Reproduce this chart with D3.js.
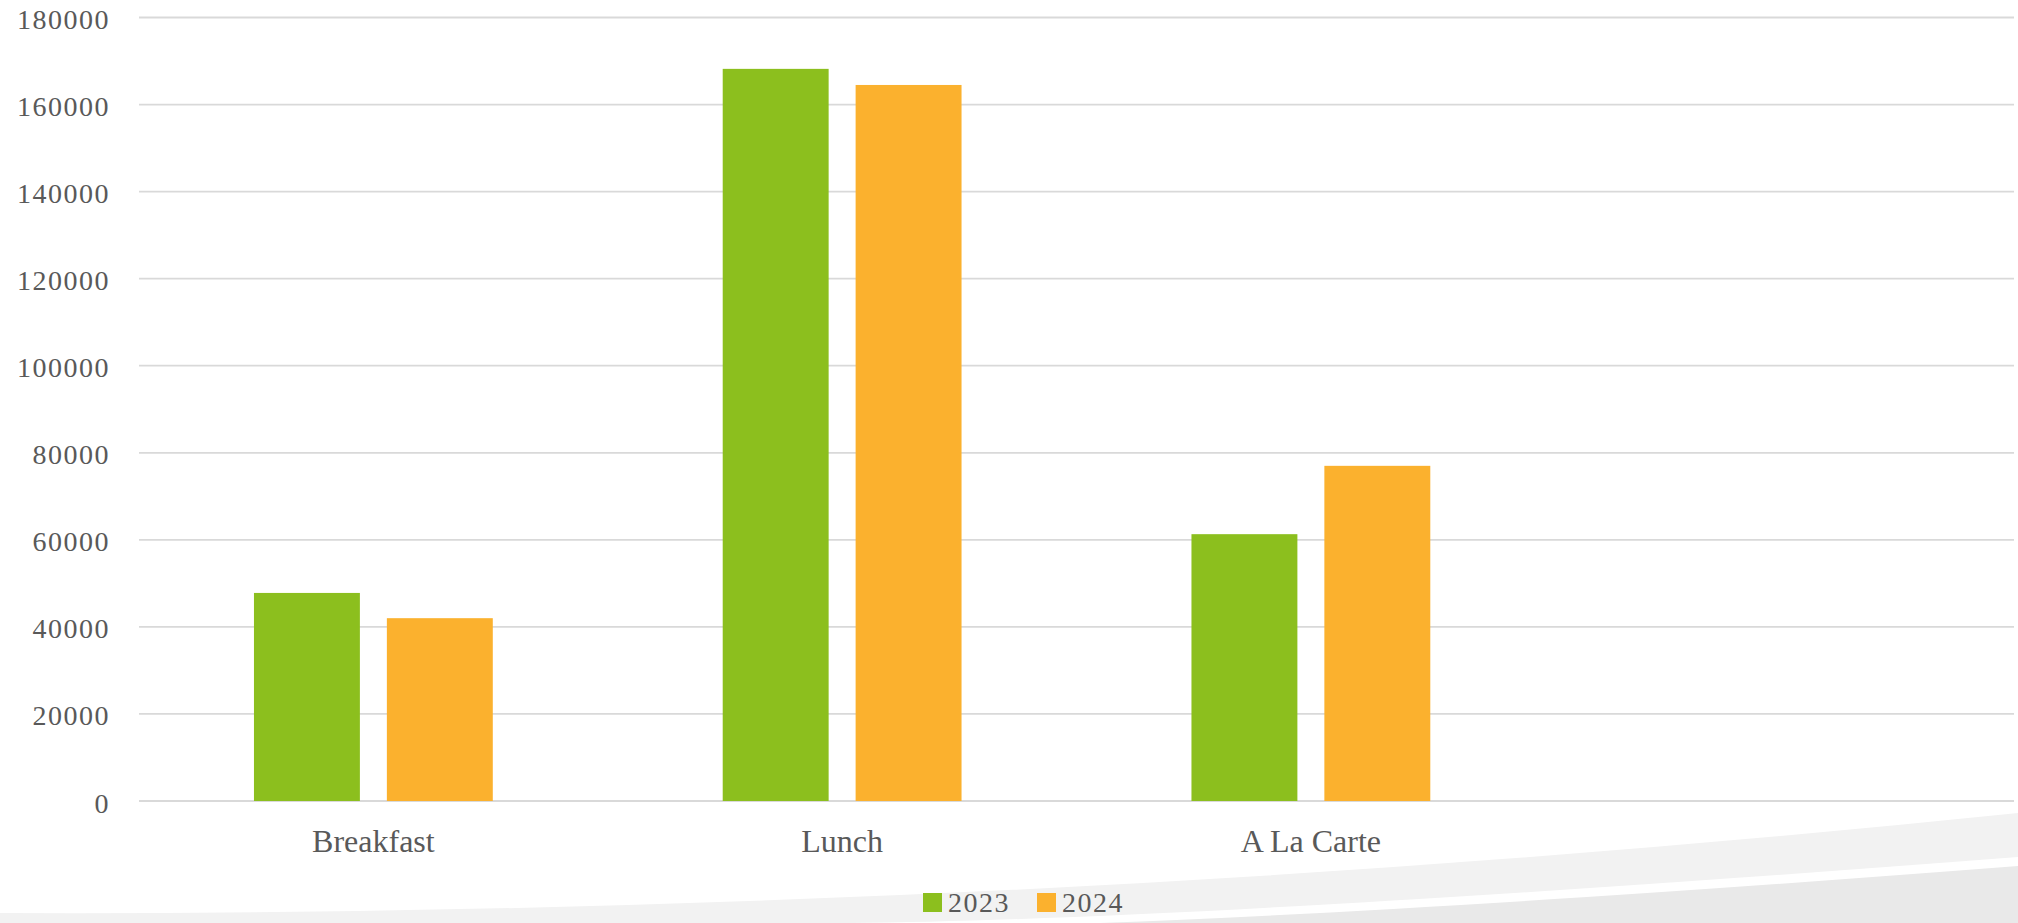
<!DOCTYPE html>
<html>
<head>
    <title>Meals 2023 vs 2024</title>
    <script src="https://cdn.jsdelivr.net/npm/d3@7"></script>
    <style>
        body { margin: 0; background: #fff; }
        text { font-family: "Liberation Serif", "DejaVu Serif", serif; fill: #595959; }
    </style>
</head>
<body>
    <svg width="2018" height="923" id="mainSvg"></svg>
    <script>
        // data
        const categories = ["Breakfast", "Lunch", "A La Carte", ""];
        const seriesNames = ["2023", "2024"];
        const values2023 = [47800, 168200, 61300, null];
        const values2024 = [42000, 164500, 77000, null];
        const yTicks = [0, 20000, 40000, 60000, 80000, 100000, 120000, 140000, 160000, 180000];
        const colors = ["#8cbf1e", "#fbb12e"];

        const svg = d3.select("#mainSvg");
        const width = +svg.attr("width");
        const height = +svg.attr("height");

        const plot = { left: 139, right: 2014, top: 17.5, bottom: 801 };

        // decorative swooshes at the bottom
        const light = d3.path();
        light.moveTo(0, 913);
        light.quadraticCurveTo(1009, 917, width, 813);
        light.lineTo(width, 857);
        light.quadraticCurveTo(1200, 920, 850, height);
        light.lineTo(0, height);
        light.closePath();
        svg.append("path").attr("d", light.toString()).attr("fill", "#f2f2f2");

        const dark = d3.path();
        dark.moveTo(1100, height);
        dark.quadraticCurveTo(1450, 910, width, 866);
        dark.lineTo(width, height);
        dark.closePath();
        svg.append("path").attr("d", dark.toString()).attr("fill", "#e9e9e9");

        const y = d3.scaleLinear().domain([0, 180000]).range([plot.bottom, plot.top]);
        const x0 = d3.scaleBand().domain(categories).range([plot.left, plot.right]);
        const x1 = d3.scaleBand().domain(seriesNames).range([0, x0.bandwidth()])
            .paddingInner(0.203).paddingOuter(0.865);

        // gridlines
        svg.append("g").selectAll("line")
            .data(yTicks)
            .join("line")
            .attr("x1", plot.left).attr("x2", plot.right)
            .attr("y1", d => y(d)).attr("y2", d => y(d))
            .attr("stroke", "#d9d9d9")
            .attr("stroke-width", 1.8);

        // y labels
        svg.append("g").selectAll("text")
            .data(yTicks)
            .join("text")
            .attr("x", 110)
            .attr("y", d => y(d) + 2)
            .attr("text-anchor", "end")
            .attr("dominant-baseline", "central")
            .attr("font-size", 28)
            .attr("letter-spacing", 1.5)
            .text(d => d);

        // bars
        const rows = categories.map((c, i) => ({ cat: c, vals: [values2023[i], values2024[i]] }));
        const groups = svg.append("g").selectAll("g")
            .data(rows)
            .join("g")
            .attr("transform", d => `translate(${x0(d.cat)},0)`);

        groups.selectAll("rect")
            .data(d => d.vals.map((v, j) => ({ key: seriesNames[j], v: v, j: j })).filter(e => e.v != null))
            .join("rect")
            .attr("x", d => x1(d.key))
            .attr("width", x1.bandwidth())
            .attr("y", d => y(d.v))
            .attr("height", d => y(0) - y(d.v))
            .attr("fill", d => colors[d.j]);

        // category labels
        svg.append("g").selectAll("text")
            .data(categories)
            .join("text")
            .attr("x", d => x0(d) + x0.bandwidth() / 2)
            .attr("y", 852)
            .attr("text-anchor", "middle")
            .attr("font-size", 32)
            .text(d => d);

        // legend
        const legendX = [923, 1037];
        const legend = svg.append("g").selectAll("g")
            .data(seriesNames)
            .join("g")
            .attr("transform", (d, i) => `translate(${legendX[i]},893)`);
        legend.append("rect")
            .attr("width", 19).attr("height", 19)
            .attr("fill", (d, i) => colors[i]);
        legend.append("text")
            .attr("x", 25).attr("y", 19)
            .attr("font-size", 28)
            .attr("letter-spacing", 1.5)
            .text(d => d);
    </script>
</body>
</html>
